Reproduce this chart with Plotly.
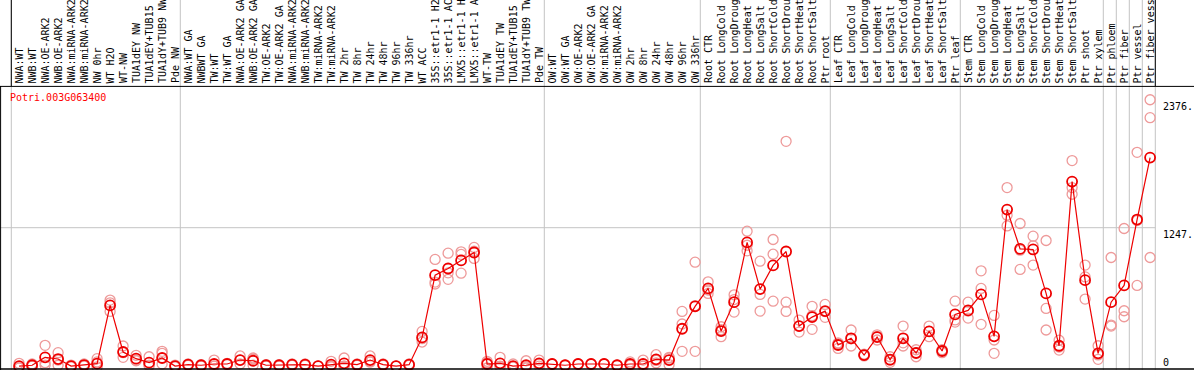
import plotly.graph_objects as go

# ---------------- data ----------------
categories = [
    "NWA:WT", "NWB:WT", "NWA:OE-ARK2", "NWB:OE-ARK2", "NWA:miRNA-ARK2", "NWB:miRNA-ARK2",
    "NW 0hr", "WT H2O", "WT-NW", "TUA1dEY NW", "TUA1dEY+TUB15", "TUA1dY+TUB9 NW", "Pde NW",
    "NWA:WT GA", "NWBWT GA", "TW:WT", "TW:WT GA", "NWA:OE-ARK2 GA", "NWB:OE-ARK2 GA",
    "TW:OE-ARK2", "TW:OE-ARK2 GA", "NWA:miRNA-ARK2", "NWB:miRNA-ARK2", "TW:miRNA-ARK2",
    "TW:miRNA-ARK2", "TW 2hr", "TW 8hr", "TW 24hr", "TW 48hr", "TW 96hr", "TW 336hr",
    "WT ACC", "35S::etr1-1 H2", "35S::etr1-1 AC", "LMX5::etr1-1 H", "LMX5::etr1-1 A",
    "WT-TW", "TUA1dEY TW", "TUA1dEY+TUB15", "TUA1dY+TUB9 TW", "Pde TW",
    "OW:WT", "OW:WT GA", "OW:OE-ARK2", "OW:OE-ARK2 GA", "OW:miRNA-ARK2", "OW:miRNA-ARK2",
    "OW 2hr", "OW 8hr", "OW 24hr", "OW 48hr", "OW 96hr", "OW 336hr",
    "Root CTR", "Root LongCold", "Root LongDroug", "Root LongHeat", "Root LongSalt",
    "Root ShortCold", "Root ShortDrou", "Root ShortHeat", "Root ShortSalt", "Ptr root",
    "Leaf CTR", "Leaf LongCold", "Leaf LongDroug", "Leaf LongHeat", "Leaf LongSalt",
    "Leaf ShortCold", "Leaf ShortDrou", "Leaf ShortHeat", "Leaf ShortSalt", "Ptr leaf",
    "Stem CTR", "Stem LongCold", "Stem LongDroug", "Stem LongHeat", "Stem LongSalt",
    "Stem ShortCold", "Stem ShortDrou", "Stem ShortHeat", "Stem ShortSalt", "Ptr shoot",
    "Ptr xylem", "Ptr phloem", "Ptr fiber", "Ptr vessel", "Ptr fiber vess",
]

means = [
    26, 33, 103, 88, 26, 35, 47, 561, 150, 91, 56, 97, 26,
    38, 33, 44, 44, 79, 73, 33, 33, 38, 38, 26, 38, 50, 38, 79, 38, 26, 38,
    279, 828, 887, 958, 1028, 44, 50, 26, 33, 50,
    44, 33, 44, 44, 44, 33, 44, 44, 85, 79, 355, 553,
    711, 335, 590, 1117, 705, 914, 1037, 379, 458, 511,
    212, 271, 123, 282, 82, 271, 141, 332, 159, 482,
    517, 658, 288, 1407, 1060, 1055, 667, 205, 1654, 784,
    138, 590, 738, 1319, 1866,
]

replicates = [
    [50, 18, 9], [44, 26, 26], [209, 33, 56], [144, 33, 79], [35, 18, 26], [44, 26, 35],
    [91, 62, 18], [608, 584, 508], [203, 103, 144], [121, 79, 73], [108, 26, 35],
    [156, 138, 44], [18, 35, 26],
    [44, 33], [38, 26], [79, 26, 26], [50, 38], [115, 44, 79], [97, 33, 88], [38, 26],
    [38, 26], [44, 33], [44, 33], [26, 26], [68, 26, 20], [97, 26, 26], [44, 33],
    [115, 62, 62], [44, 33], [26, 26], [44, 33],
    [332, 238, 268], [967, 767, 750], [1022, 849, 791], [1034, 1011, 846],
    [1073, 976, 1040], [9, 68, 55], [103, 26, 20], [44, 18, 18], [73, 18, 9], [79, 44, 26],
    [44, 44], [33, 33], [44, 44], [44, 44], [44, 44], [33, 33], [62, 35, 35], [79, 26, 26],
    [126, 53, 76], [103, 38, 97], [508, 397, 156], [943, 156, 560],
    [769, 667, 697], [373, 285, 347], [655, 502, 613], [1216, 1043, 1092],
    [952, 658, 511], [1143, 1013, 599], [2009, 590, 508], [432, 326, 379],
    [553, 350, 470], [570, 456, 507],
    [182, 230, 224], [344, 203, 266], [123, 115, 131], [302, 256, 288], [108, 59, 79],
    [379, 203, 231], [108, 170, 145], [379, 285, 332], [144, 170, 163], [599, 414, 433],
    [590, 449, 512], [866, 711, 394], [473, 256, 138], [1601, 1357, 1263],
    [1284, 1049, 879], [1172, 1087, 917], [1134, 535, 344], [167, 194, 254],
    [1839, 1601, 1542], [917, 813, 617],
    [205, 85, 124], [984, 388, 379], [1240, 514, 461], [1912, 738, 1310],
    [2376, 2218, 984],
]

gene_id = "Potri.003G063400"
group_starts = [0, 13, 41, 53, 63, 73, 84, 85, 86, 87, 88]
ytick_values = [2376, 1247, 0]
ytick_labels = ["2376.", "1247.", "0"]
grid_value = 1247
axis_top = 2494

# ---------------- layout geometry ----------------
W, H = 1194, 370
STEP = 13.0
X0 = 19.1           # pixel centre of first column
Y_ZERO_PX = 369.0   # pixel of value 0
Y_TOP_PX = 86.4     # pixel of axis_top
s = (Y_ZERO_PX - Y_TOP_PX) / axis_top
y_max = Y_ZERO_PX / s
y_min = -(H - Y_ZERO_PX) / s
x_min = -X0 / STEP
x_max = (W - X0) / STEP

def py(px):
    return 1 - px / H

FONT = "DejaVu Sans Mono"
RED = "#ee0000"
PINK = "#ee9a9a"
GRAY = "#c4c4c4"

idx = list(range(len(categories)))
rep_x, rep_y = [], []
for i, reps in enumerate(replicates):
    for v in reps:
        rep_x.append(i)
        rep_y.append(v)

fig = go.Figure()
fig.add_trace(go.Scatter(
    x=rep_x, y=rep_y, mode="markers",
    marker=dict(symbol="circle-open", size=10, color=PINK, line=dict(width=1.3, color=PINK)),
    hoverinfo="skip", showlegend=False, cliponaxis=False,
))
fig.add_trace(go.Scatter(
    x=idx, y=means, mode="lines+markers",
    line=dict(color=RED, width=1.2),
    marker=dict(symbol="circle-open", size=10, color=RED, line=dict(width=1.8, color=RED)),
    text=categories, showlegend=False, cliponaxis=False,
))

shapes = []
for g in group_starts:
    shapes.append(dict(type="line", xref="x", yref="paper", x0=g - 0.6, x1=g - 0.6,
                       y0=0, y1=1, line=dict(color=GRAY, width=1), layer="below"))
for g in (group_starts[0], group_starts[-1]):
    shapes.append(dict(type="line", xref="x", yref="paper", x0=g - 0.6, x1=g - 0.6,
                       y0=py(86), y1=1, line=dict(color="black", width=1)))
shapes.append(dict(type="line", xref="paper", yref="y", x0=0, x1=(X0 + STEP * (group_starts[-1] - 0.6)) / W,
                   y0=grid_value, y1=grid_value, line=dict(color=GRAY, width=1), layer="below"))
shapes.append(dict(type="line", xref="paper", yref="y", x0=0, x1=1,
                   y0=axis_top, y1=axis_top, line=dict(color="black", width=1)))
shapes.append(dict(type="line", xref="paper", yref="y", x0=0, x1=1,
                   y0=0, y1=0, line=dict(color="black", width=1.5)))
shapes.append(dict(type="line", xref="paper", yref="paper", x0=0.6 / W, x1=0.6 / W,
                   y0=0, y1=py(86), line=dict(color="black", width=1)))

annotations = []
for i, lab in enumerate(categories):
    annotations.append(dict(
        x=i, xref="x", y=py(84.5), yref="paper", text=lab, textangle=-90,
        showarrow=False, xanchor="center", yanchor="bottom",
        font=dict(family=FONT, size=10, color="black"), borderpad=0,
    ))
annotations.append(dict(
    x=8 / W, xref="paper", y=py(97), yref="paper", text=gene_id, showarrow=False,
    xanchor="left", yanchor="middle", font=dict(family=FONT, size=10, color="#ff0000"),
))
label_x = (X0 + STEP * (group_starts[-1] - 0.6) + 7) / W
for v, t in zip(ytick_values, ytick_labels):
    annotations.append(dict(
        x=label_x, xref="paper", y=v, yref="y", text=t, showarrow=False,
        xanchor="left", yanchor="bottom" if v == 0 else "top",
        font=dict(family=FONT, size=10, color="black"), borderpad=0,
    ))

fig.update_layout(
    width=W, height=H, margin=dict(l=0, r=0, t=0, b=0),
    paper_bgcolor="white", plot_bgcolor="white",
    xaxis=dict(range=[x_min, x_max], visible=False, fixedrange=True),
    yaxis=dict(range=[y_min, y_max], visible=False, fixedrange=True),
    shapes=shapes, annotations=annotations, showlegend=False,
)
fig.write_html(
    "out.html",
    config={"displayModeBar": False},
    post_script="document.body.style.margin='0';document.body.style.padding='0';document.body.style.overflow='hidden';",
)
